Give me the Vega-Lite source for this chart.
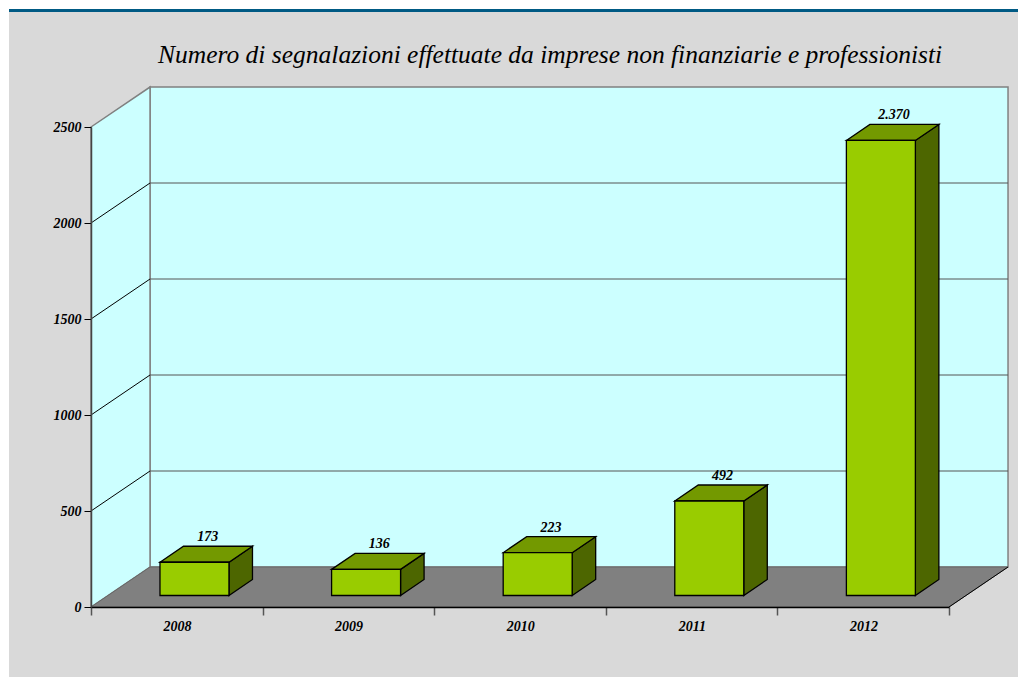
{
"$schema":"https://vega.github.io/schema/vega-lite/v6.json",
"width":858,"height":480,
"autosize":{"type":"none"},
"padding":{"left":91,"top":127,"right":69,"bottom":70},
"background":"#ffffff",
"title":{"text":"Numero di segnalazioni effettuate da imprese non finanziarie e professionisti","anchor":"start","frame":"group","dx":67,"dy":59,"offset":0,"font":"Liberation Serif","fontStyle":"italic","fontWeight":"normal","fontSize":25.5,"color":"#000000"},
"config":{"view":{"stroke":null}},
"resolve":{"axis":{"x":"independent","y":"independent"}},
"datasets":{
"bars":[
{"year":2008,"value":173,"label":"173"},
{"year":2009,"value":136,"label":"136"},
{"year":2010,"value":223,"label":"223"},
{"year":2011,"value":492,"label":"492"},
{"year":2012,"value":2370,"label":"2.370"}],
"ticks":[{"tick":0},{"tick":500},{"tick":1000},{"tick":1500},{"tick":2000},{"tick":2500}]
},
"layer":[
{"data":{"values":[{"panel":1}]},"mark":{"type":"rect","fill":"#d9d9d9"},
"encoding":{"x":{"value":-82},"x2":{"value":927},"y":{"value":-115},"y2":{"value":550}}},
{"data":{"values":[{"panel":1}]},"mark":{"type":"rule","color":"#005a84","strokeWidth":3},
"encoding":{"x":{"value":-82},"x2":{"value":927},"y":{"value":-116.5}}},
{"data":{"values":[{"wall":1}]},"mark":{"type":"rect","fill":"#ccffff","stroke":"#808080","strokeWidth":1.5},
"encoding":{"x":{"datum":2007.844,"type":"quantitative","scale":{"domain":[2007.5,2012.5]},"axis":null},"x2":{"datum":2012.844},
"y":{"datum":208.3,"type":"quantitative","scale":{"domain":[0,2500],"nice":false},"axis":null},"y2":{"datum":2708.3}}},
{"data":{"values":[{"d":2007.5,"low":0,"high":2500},{"d":2007.844,"low":208.3,"high":2708.3}]},
"mark":{"type":"area","fill":"#ccffff","stroke":"#808080","strokeWidth":1.5},
"encoding":{"x":{"field":"d","type":"quantitative","scale":{"domain":[2007.5,2012.5]},"axis":null},
"y":{"field":"high","type":"quantitative","stack":null,"scale":{"domain":[0,2500],"nice":false},"axis":null},"y2":{"field":"low"}}},
{"data":{"values":[{"d":2007.5,"low":0,"high":0},{"d":2007.844,"low":0,"high":208.3},{"d":2012.5,"low":0,"high":208.3},{"d":2012.844,"low":208.3,"high":208.3}]},
"mark":{"type":"area","fill":"#808080","stroke":"#666666","strokeWidth":1},
"encoding":{"x":{"field":"d","type":"quantitative","scale":{"domain":[2007.5,2012.5]},"axis":null},
"y":{"field":"high","type":"quantitative","stack":null,"scale":{"domain":[0,2500],"nice":false},"axis":null},"y2":{"field":"low"}}},
{"data":{"name":"ticks"},"transform":[{"filter":"datum.tick>0 && datum.tick<2500"}],"mark":{"type":"rule","color":"#555555","strokeWidth":1,"yOffset":-40},
"encoding":{"x":{"datum":2007.844,"type":"quantitative","scale":{"domain":[2007.5,2012.5]},"axis":null},"x2":{"datum":2012.844},
"y":{"field":"tick","type":"quantitative","scale":{"domain":[0,2500],"nice":false},"axis":null}}},
{"data":{"name":"ticks"},"transform":[{"filter":"datum.tick>0 && datum.tick<2500"},{"calculate":"datum.tick+208.3","as":"back"}],"mark":{"type":"rule","color":"#000000","strokeWidth":1},
"encoding":{"x":{"datum":2007.5,"type":"quantitative","scale":{"domain":[2007.5,2012.5]},"axis":null},"x2":{"datum":2007.844},
"y":{"field":"tick","type":"quantitative","scale":{"domain":[0,2500],"nice":false},"axis":null},"y2":{"field":"back"}}},
{"data":{"values":[{"d":2012.5,"v":0},{"d":2012.844,"v":208.3}]},"mark":{"type":"line","color":"#000000","strokeWidth":1},
"encoding":{"x":{"field":"d","type":"quantitative","scale":{"domain":[2007.5,2012.5]},"axis":null},
"y":{"field":"v","type":"quantitative","scale":{"domain":[0,2500],"nice":false},"axis":null}}},
{"data":{"name":"bars"},
"transform":[{"calculate":"[0,1]","as":"corner"},{"flatten":["corner"]},
{"calculate":"datum.year+0.304+datum.corner*0.137","as":"sx"},
{"calculate":"60+datum.corner*83.3","as":"low"},
{"calculate":"60+datum.value+datum.corner*83.3","as":"high"}],
"mark":{"type":"area","fill":"#4d6600","stroke":"#000000","strokeWidth":1.3},
"encoding":{"x":{"field":"sx","type":"quantitative","scale":{"domain":[2007.5,2012.5]},"axis":null},
"y":{"field":"high","type":"quantitative","stack":null,"scale":{"domain":[0,2500],"nice":false},"axis":null},"y2":{"field":"low"},
"detail":{"field":"year"}}},
{"data":{"name":"bars"},
"transform":[{"calculate":"[0,1,2,3]","as":"corner"},{"flatten":["corner"]},
{"calculate":"datum.year-0.098+[0,0.137,0.402,0.539][datum.corner]","as":"tx"},
{"calculate":"60+datum.value+[0,0,0,83.3][datum.corner]","as":"low"},
{"calculate":"60+datum.value+[0,83.3,83.3,83.3][datum.corner]","as":"high"}],
"mark":{"type":"area","fill":"#739900","stroke":"#000000","strokeWidth":1.3},
"encoding":{"x":{"field":"tx","type":"quantitative","scale":{"domain":[2007.5,2012.5]},"axis":null},
"y":{"field":"high","type":"quantitative","stack":null,"scale":{"domain":[0,2500],"nice":false},"axis":null},"y2":{"field":"low"},
"detail":{"field":"year"}}},
{"data":{"name":"bars"},
"transform":[{"calculate":"datum.year-0.098","as":"x0"},{"calculate":"datum.year+0.304","as":"x1"},{"calculate":"60","as":"base"},{"calculate":"60+datum.value","as":"top"}],
"mark":{"type":"rect","fill":"#99cc00","stroke":"#000000","strokeWidth":1.3},
"encoding":{"x":{"field":"x0","type":"quantitative","scale":{"domain":[2007.5,2012.5]},
"axis":{"title":null,"values":[2007.5,2008.5,2009.5,2010.5,2011.5,2012.5],"labelExpr":"datum.value<2012 ? format(datum.value+0.5,'d') : ''","labelOffset":86,"labelFlush":false,"labelPadding":4,"tickSize":8,"tickColor":"#555555","tickWidth":1.5,"domainColor":"#000000","domainWidth":1.5,"grid":false,"zindex":1,"labelFont":"Liberation Serif","labelFontStyle":"italic","labelFontWeight":"bold","labelFontSize":14,"labelColor":"#000000","labelAngle":0}},
"x2":{"field":"x1"},
"y":{"field":"base","type":"quantitative","scale":{"domain":[0,2500],"nice":false},
"axis":{"title":null,"values":[0,500,1000,1500,2000,2500],"format":"d","tickSize":7,"tickColor":"#000000","domainColor":"#444444","domainWidth":1.5,"grid":false,"zindex":1,"labelFlush":false,"labelFont":"Liberation Serif","labelFontStyle":"italic","labelFontWeight":"bold","labelFontSize":14,"labelColor":"#000000","labelPadding":3}},
"y2":{"field":"top"}}},
{"data":{"name":"bars"},
"transform":[{"calculate":"datum.year+0.18","as":"tx"},{"calculate":"60+datum.value+83.3","as":"ty"}],
"mark":{"type":"text","font":"Liberation Serif","fontStyle":"italic","fontWeight":"bold","fontSize":14,"color":"#000000","baseline":"bottom","dy":-2},
"encoding":{"x":{"field":"tx","type":"quantitative","scale":{"domain":[2007.5,2012.5]},"axis":null},
"y":{"field":"ty","type":"quantitative","scale":{"domain":[0,2500],"nice":false},"axis":null},
"text":{"field":"label"}}}
]
}
